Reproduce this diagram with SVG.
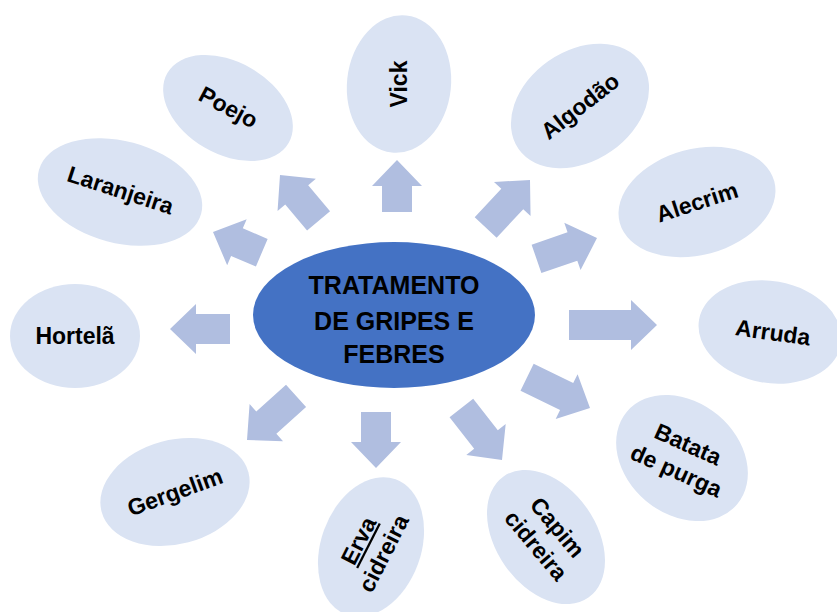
<svg xmlns="http://www.w3.org/2000/svg" width="837" height="612" viewBox="0 0 837 612">
<style>
.leaf{fill:#DAE3F3;}
.hub{fill:#4472C4;}
.arr{fill:#B0BEE0;}
.t{font-family:"Liberation Sans",Arial,sans-serif;font-weight:bold;font-size:23px;fill:#000;text-anchor:middle;}
.c{font-family:"Liberation Sans",Arial,sans-serif;font-weight:bold;font-size:25px;fill:#000;text-anchor:middle;}
</style>
<rect width="837" height="612" fill="#fff"/>
<g id="connectors">
<polygon class="arr" transform="translate(397,160) rotate(-90)" points="-52,-15 -26,-15 -26,-25 0,0 -26,25 -26,15 -52,15"/>
<polygon class="arr" transform="translate(530,180) rotate(-47)" points="-65,-15 -26,-15 -26,-25 0,0 -26,25 -26,15 -65,15"/>
<polygon class="arr" transform="translate(597,238) rotate(-19)" points="-64,-15 -26,-15 -26,-25 0,0 -26,25 -26,15 -64,15"/>
<polygon class="arr" transform="translate(657,325)" points="-88,-15 -26,-15 -26,-25 0,0 -26,25 -26,15 -88,15"/>
<polygon class="arr" transform="translate(590,408) rotate(26)" points="-70,-15 -26,-15 -26,-25 0,0 -26,25 -26,15 -70,15"/>
<polygon class="arr" transform="translate(502,460) rotate(52)" points="-66,-15 -26,-15 -26,-25 0,0 -26,25 -26,15 -66,15"/>
<polygon class="arr" transform="translate(376,468) rotate(90)" points="-56,-15 -26,-15 -26,-25 0,0 -26,25 -26,15 -56,15"/>
<polygon class="arr" transform="translate(247,440) rotate(138)" points="-66,-15 -26,-15 -26,-25 0,0 -26,25 -26,15 -66,15"/>
<polygon class="arr" transform="translate(170,329) rotate(180)" points="-60,-15 -26,-15 -26,-25 0,0 -26,25 -26,15 -60,15"/>
<polygon class="arr" transform="translate(213,232) rotate(203)" points="-53,-15 -26,-15 -26,-25 0,0 -26,25 -26,15 -53,15"/>
<polygon class="arr" transform="translate(280,175) rotate(230)" points="-60,-15 -26,-15 -26,-25 0,0 -26,25 -26,15 -60,15"/>
</g>
<g id="hub">
<ellipse class="hub" cx="394" cy="315" rx="141" ry="73"/>
<text class="c" x="394" y="294">TRATAMENTO</text>
<text class="c" x="394" y="330">DE GRIPES E</text>
<text class="c" x="394" y="363">FEBRES</text>
</g>
<g id="vick" transform="translate(399,84)">
<ellipse class="leaf" rx="69" ry="52" transform="rotate(-84)"/>
<text class="t" transform="rotate(-90)" y="8">Vick</text>
</g>
<g id="algodao" transform="translate(580,106)">
<ellipse class="leaf" rx="75" ry="55" transform="rotate(-35)"/>
<text class="t" transform="rotate(-38)" y="8">Algodão</text>
</g>
<g id="alecrim" transform="translate(697,202)">
<ellipse class="leaf" rx="80" ry="53" transform="rotate(-15)"/>
<text class="t" transform="rotate(-18)" y="8">Alecrim</text>
</g>
<g id="arruda" transform="translate(770,332)">
<ellipse class="leaf" rx="72" ry="51" transform="rotate(10)"/>
<text class="t" transform="rotate(8)" x="3" y="8">Arruda</text>
</g>
<g id="batata" transform="translate(682,458)">
<ellipse class="leaf" rx="72" ry="56" transform="rotate(40)"/>
<g transform="rotate(24)">
<text class="t" y="-7">Batata</text>
<text class="t" y="22">de purga</text>
</g>
</g>
<g id="capim" transform="translate(546,537)">
<ellipse class="leaf" rx="74" ry="50" transform="rotate(55)"/>
<g transform="rotate(50)">
<text class="t" y="-7">Capim</text>
<text class="t" y="21">cidreira</text>
</g>
</g>
<g id="erva" transform="translate(371,547)">
<ellipse class="leaf" rx="72" ry="50" transform="rotate(-70)"/>
<g transform="rotate(-63)">
<text class="t" y="-6" text-decoration="underline">Erva</text>
<text class="t" y="22">cidreira</text>
</g>
</g>
<g id="gergelim" transform="translate(175,492)">
<ellipse class="leaf" rx="76" ry="52" transform="rotate(-15)"/>
<text class="t" transform="rotate(-20)" y="8">Gergelim</text>
</g>
<g id="hortela" transform="translate(75,336)">
<ellipse class="leaf" rx="65" ry="52"/>
<text class="t" y="8">Hortelã</text>
</g>
<g id="laranjeira" transform="translate(120,192)">
<ellipse class="leaf" rx="84" ry="51" transform="rotate(15)"/>
<text class="t" transform="rotate(18)" y="6">Laranjeira</text>
</g>
<g id="poejo" transform="translate(228,108)">
<ellipse class="leaf" rx="70" ry="46" transform="rotate(30)"/>
<text class="t" transform="rotate(28)" y="7">Poejo</text>
</g>
</svg>
